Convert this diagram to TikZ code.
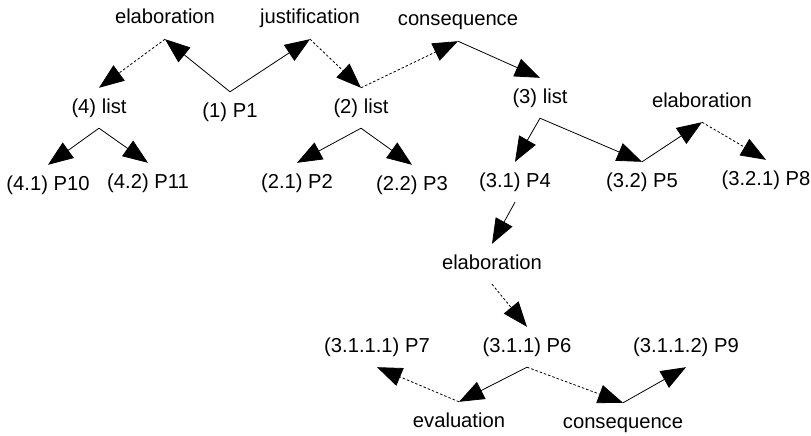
\documentclass[tikz,border=0pt]{standalone}
\usepackage{fontspec}
\setmainfont{Liberation Sans}
\usetikzlibrary{arrows.meta}

\begin{document}
\begin{tikzpicture}[x=1pt,y=-1pt,
	rst/.style={inner sep=0pt,minimum height=40pt,text height=14.5pt,text depth=4.5pt,font=\fontsize{20.2}{24}\selectfont},
	nuc/.style={line width=0.8pt,-{Triangle[length=25pt,width=19pt]}},
	sat/.style={line width=0.8pt,dash pattern=on 2.5pt off 2pt,-{Triangle[length=25pt,width=19pt]}}]
			\useasboundingbox (0,0) rectangle (811,436);
			% relations
			\node[rst] (rel1) at (165,19) {elaboration};
			\node[rst] (rel2) at (310,19) {justification};
			\node[rst] (rel3) at (458,21) {consequence};
			\node[rst] (rel4) at (702,102) {elaboration};
			\node[rst] (rel5) at (492,264) {elaboration};
			\node[rst] (rel6) at (459,422) {evaluation};
			\node[rst] (rel7) at (623,423) {consequence};
			% segments
			\node[rst] (n1) at (230,112) {(1) P1};
			\node[rst] (n2) at (361,108) {(2) list};
			\node[rst] (n3) at (540,98) {(3) list};
			\node[rst] (n4) at (99,108) {(4) list};
			\node[rst] (n41) at (48,185) {(4.1) P10};
			\node[rst] (n42) at (148,183) {(4.2) P11};
			\node[rst] (n21) at (297,183) {(2.1) P2};
			\node[rst] (n22) at (412,185) {(2.2) P3};
			\node[rst] (n31) at (515,182) {(3.1) P4};
			\node[rst] (n32) at (642,182) {(3.2) P5};
			\node[rst] (n321) at (766,180) {(3.2.1) P8};
			\node[rst] (n3111) at (377,347) {(3.1.1.1) P7};
			\node[rst] (n311) at (527,347) {(3.1.1) P6};
			\node[rst] (n3112) at (686,347) {(3.1.1.2) P9};
			% nucleus links
			\draw[nuc] (n1.north) -- (rel1.south);
			\draw[nuc] (n1.north) -- (rel2.south);
			\draw[nuc] (n4.south) -- (n41.north);
			\draw[nuc] (n4.south) -- (n42.north);
			\draw[nuc] (n2.south) -- (n21.north);
			\draw[nuc] (n2.south) -- (n22.north);
			\draw[nuc] (rel3.south) -- (n3.north);
			\draw[nuc] (n3.south) -- (n31.north);
			\draw[nuc] (n3.south) -- (n32.north);
			\draw[nuc] (n32.north) -- (rel4.south);
			\draw[nuc] (n31.south) -- (rel5.north);
			\draw[nuc] (n311.south) -- (rel6.north);
			\draw[nuc] (rel7.north) -- (n3112.south);
			% satellite links
			\draw[sat] (rel1.south) -- (n4.north);
			\draw[sat] (rel2.south) -- (n2.north);
			\draw[sat] (n2.north) -- (rel3.south);
			\draw[sat] (rel4.south) -- (n321.north);
			\draw[sat] (rel5.south) -- (n311.north);
			\draw[sat] (rel6.north) -- (n3111.south);
			\draw[sat] (n311.south) -- (rel7.north);
		\end{tikzpicture}
\end{document}
